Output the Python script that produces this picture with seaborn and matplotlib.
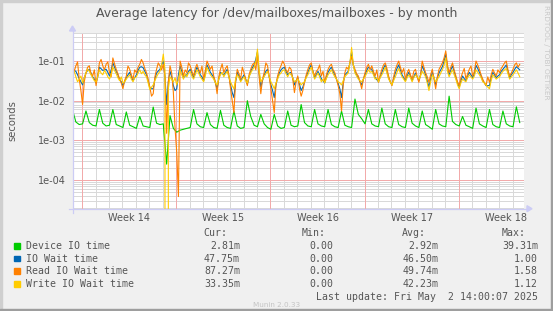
import numpy as np
import pandas as pd
import matplotlib
matplotlib.use("Agg")
import matplotlib.pyplot as plt
import seaborn as sns
from matplotlib.patches import Rectangle, Polygon
from matplotlib.lines import Line2D
from matplotlib.ticker import NullLocator

W, H, DPI = 553, 311, 100

# ---------------- data (milliseconds) ----------------
step_device = 0.25     # days between device samples
step_wait = 0.125      # days between wait-time samples

device_ms = [
    5.9, 2.9, 2.5, 2.6,  5.5, 2.8, 2.4, 2.3,  6.0, 2.7, 2.3, 2.4,  6.0, 2.5, 2.3, 2.1,
    5.2, 2.4, 2.2, 2.0,  4.0, 2.3, 2.2, 2.1,  6.9, 2.7, 2.5, 2.6,  0.25, 4.2, 2.0, 1.6,
    1.8, 1.9, 2.0, 2.1,  6.0, 2.6, 2.2, 2.1,  5.0, 2.5, 2.1, 2.0,  5.7, 2.4, 2.1, 2.0,
    5.5, 2.3, 2.0, 2.1,  10.0, 4.0, 2.4, 2.2, 4.5, 2.6, 2.1, 1.9,  4.5, 2.3, 2.0, 2.1,
    5.5, 2.4, 2.2, 2.3,  8.0, 2.8, 2.3, 2.2,  6.0, 2.6, 2.3, 2.2,  6.0, 2.5, 2.2, 2.1,
    5.5, 2.4, 2.2, 2.1,  11.0, 4.5, 3.5, 2.6, 6.0, 2.6, 2.3, 2.2,  6.5, 2.6, 2.2, 2.1,
    6.0, 2.5, 2.2, 2.1,  6.5, 2.7, 2.3, 2.1,  5.5, 2.5, 2.2, 1.9,  6.0, 2.6, 2.3, 2.2,
    13.0, 3.0, 2.5, 2.3, 4.0, 2.4, 2.2, 2.0,  6.5, 2.6, 2.3, 2.1,  6.0, 2.5, 2.2, 2.1,
    5.5, 2.6, 2.3, 2.2,  7.0, 2.8,
]

iowait_ms = [
    60, 58, 55, 45, 36, 30, 25, 38, 50, 58, 62, 50, 40, 35, 28, 40,
    70, 64, 58, 60, 62, 52, 42, 60, 90, 70, 55, 45, 34, 30, 24, 30,
    38, 45, 52, 40, 32, 38, 45, 58, 70, 72, 68, 55, 45, 32, 21, 20,
    20, 35, 50, 56, 62, 80, 100, 40, 8, 30, 55, 40, 24, 18, 20, 45,
    75, 55, 38, 42, 45, 55, 62, 50, 38, 52, 70, 58, 45, 40, 32, 50,
    80, 65, 52, 45, 38, 28, 20, 35, 52, 48, 45, 52, 62, 42, 25, 16,
    12, 30, 52, 42, 32, 38, 45, 35, 26, 40, 55, 68, 80, 110, 170, 50,
    22, 32, 45, 55, 62, 40, 25, 18, 12, 25, 38, 50, 60, 66, 70, 55,
    45, 50, 52, 38, 25, 32, 38, 26, 18, 22, 30, 40, 52, 66, 80, 55,
    38, 46, 55, 45, 36, 32, 28, 40, 52, 62, 70, 55, 45, 35, 27, 20,
    12, 28, 45, 50, 55, 90, 170, 80, 55, 45, 38, 30, 25, 35, 45, 58,
    70, 66, 62, 48, 38, 34, 30, 40, 52, 66, 80, 55, 38, 30, 25, 36,
    50, 65, 80, 60, 45, 38, 32, 42, 52, 42, 32, 40, 50, 40, 32, 45,
    75, 60, 45, 32, 22, 36, 52, 38, 25, 38, 50, 60, 72, 100, 150, 70,
    45, 60, 75, 55, 38, 28, 22, 32, 42, 36, 32, 42, 52, 45, 38, 48,
    78, 65, 52, 42, 32, 28, 24, 24, 24, 38, 52, 45, 38, 42, 45, 55,
    62, 70, 80, 55, 38, 45, 52, 62, 72, 66, 60,
]

read_ms = [
    83, 55, 76, 95, 35, 18, 8, 30, 50, 70, 76, 48, 42, 60, 24, 45,
    90, 110, 76, 60, 83, 95, 51, 40, 120, 85, 62, 48, 35, 28, 20, 32,
    42, 75, 62, 45, 35, 60, 51, 70, 83, 110, 90, 65, 51, 35, 22, 13,
    15, 40, 62, 90, 76, 60, 83, 40, 1.5, 30, 76, 50, 16, 2.0, 0.5, 0.038,
    100, 70, 42, 60, 51, 90, 76, 55, 42, 65, 83, 62, 51, 75, 35, 58,
    100, 80, 62, 75, 42, 30, 15, 40, 62, 85, 51, 65, 76, 45, 20, 10,
    5, 30, 62, 48, 35, 70, 51, 35, 24, 45, 62, 80, 90, 60, 145, 40,
    15, 35, 51, 90, 76, 40, 20, 10, 5, 25, 42, 60, 76, 100, 83, 60,
    51, 70, 62, 35, 16, 30, 42, 20, 13, 18, 29, 45, 62, 80, 90, 55,
    42, 55, 62, 80, 42, 55, 29, 45, 62, 75, 83, 60, 51, 35, 24, 15,
    5.5, 25, 51, 70, 62, 90, 130, 80, 62, 48, 42, 30, 20, 35, 51, 70,
    83, 60, 76, 55, 42, 60, 29, 45, 62, 80, 90, 65, 42, 30, 24, 40,
    62, 80, 100, 70, 51, 65, 35, 50, 62, 45, 35, 55, 62, 40, 29, 45,
    100, 70, 51, 40, 29, 45, 62, 35, 20, 40, 62, 75, 90, 120, 180, 80,
    51, 70, 90, 60, 42, 30, 24, 38, 51, 65, 35, 48, 62, 75, 42, 55,
    100, 80, 62, 45, 35, 28, 24, 40, 29, 45, 62, 50, 42, 60, 51, 65,
    76, 90, 100, 60, 42, 50, 62, 80, 90, 70, 83,
]

write_ms = [
    45, 55, 40, 30, 35, 42, 28, 38, 50, 62, 55, 45, 38, 32, 30, 40,
    60, 50, 45, 58, 50, 40, 35, 45, 70, 58, 48, 38, 32, 40, 28, 30,
    35, 40, 45, 35, 30, 38, 40, 50, 60, 48, 55, 45, 40, 28, 19, 22,
    25, 32, 40, 48, 55, 80, 150, 60, 0, 20, 40, 35, 30, 38, 25, 35,
    60, 45, 35, 48, 40, 50, 55, 42, 35, 45, 60, 50, 40, 35, 30, 42,
    70, 55, 45, 40, 35, 28, 25, 35, 45, 52, 40, 48, 55, 40, 30, 24,
    20, 35, 45, 38, 30, 35, 40, 32, 28, 40, 50, 60, 70, 95, 200, 60,
    30, 35, 40, 48, 55, 40, 30, 25, 20, 28, 35, 45, 50, 58, 60, 48,
    40, 50, 45, 38, 30, 32, 35, 30, 25, 28, 30, 38, 45, 58, 70, 50,
    35, 42, 50, 40, 30, 35, 28, 36, 45, 52, 60, 48, 40, 35, 30, 28,
    25, 32, 40, 45, 50, 90, 220, 80, 50, 42, 35, 32, 30, 35, 40, 50,
    60, 52, 55, 45, 35, 38, 30, 38, 45, 55, 70, 50, 35, 30, 25, 32,
    40, 52, 65, 50, 40, 35, 30, 38, 45, 38, 30, 38, 45, 40, 35, 42,
    55, 48, 40, 28, 18, 30, 45, 38, 30, 35, 40, 50, 60, 80, 120, 55,
    40, 50, 60, 45, 35, 25, 20, 28, 35, 32, 30, 38, 45, 40, 35, 42,
    60, 52, 45, 38, 30, 28, 25, 22, 20, 32, 45, 40, 35, 38, 40, 48,
    55, 60, 65, 48, 35, 40, 45, 52, 60, 50, 40,
]

series_names = ["Device IO time", "IO Wait time", "Read IO Wait time", "Write IO Wait time"]
series_colors = ["#00CC00", "#0066B3", "#FF8000", "#FFCC00"]
legend_cur = ["2.81m", "47.75m", "87.27m", "33.35m"]
legend_min = ["0.00", "0.00", "0.00", "0.00"]
legend_avg = ["2.92m", "46.50m", "49.74m", "42.23m"]
legend_max = ["39.31m", "1.00", "1.58", "1.12"]

week_labels = ["Week 14", "Week 15", "Week 16", "Week 17", "Week 18"]
ytick_values = [1e-1, 1e-2, 1e-3, 1e-4]
ytick_labels = ["1e-01", "1e-02", "1e-03", "1e-04"]

title = "Average latency for /dev/mailboxes/mailboxes - by month"
ylabel = "seconds"
last_update = "Last update: Fri May  2 14:00:07 2025"
version_text = "Munin 2.0.33"
side_text = "RRDTOOL / TOBI OETIKER"

# ---------------- layout ----------------
PL, PR, PT, PB = 72.5, 523.5, 32.5, 208.7      # plot area in pixels
X_MAX = 33.53                                  # days shown
Y_MIN, Y_MAX = 1.877e-5, 0.526
WEEK0 = 0.715                                  # first Monday (days from left edge)


def fx(x):
    return x / W


def fy(y):
    return 1 - y / H


fig = plt.figure(figsize=(W / DPI, H / DPI), dpi=DPI, facecolor="#F0F0F0")
ax = fig.add_axes([fx(PL), fy(PB), (PR - PL) / W, (PB - PT) / H])
ax.set_facecolor("white")

frames = []
for name, vals, step in zip(series_names,
                            [device_ms, iowait_ms, read_ms, write_ms],
                            [step_device, step_wait, step_wait, step_wait]):
    n = len(vals)
    frames.append(pd.DataFrame({
        "day": np.arange(n) * step,
        "seconds": np.asarray(vals, dtype=float) * 1e-3,
        "series": name,
    }))
df = pd.concat(frames, ignore_index=True)

sns.lineplot(data=df, x="day", y="seconds", hue="series", hue_order=series_names,
             palette=dict(zip(series_names, series_colors)), estimator=None,
             sort=False, linewidth=0.8, legend=False, ax=ax, zorder=3)

ax.set_yscale("log", nonpositive="clip")
ax.set_xlim(0, X_MAX)
ax.set_ylim(Y_MIN, Y_MAX)

# grid (dotted, crisp 1px)
dots = (0, (1, 1))
minor_c, major_c = "#D9D9D9", "#F2AAAA"
d = WEEK0
while d < X_MAX:
    k = round(d - WEEK0)
    major = (k % 7 == 0)
    ax.axvline(d, color=major_c if major else minor_c, lw=0.72, linestyle=dots,
               antialiased=False, zorder=2 if major else 1)
    d += 1
for e in range(-5, 0):
    for m in range(1, 10):
        v = m * 10.0 ** e
        if Y_MIN < v < Y_MAX:
            ax.axhline(v, color=major_c if m == 1 else minor_c, lw=0.72,
                       linestyle=dots, antialiased=False,
                       zorder=2 if m == 1 else 1)

for s in ax.spines.values():
    s.set_visible(False)

ax.set_yticks(ytick_values)
ax.set_yticklabels(ytick_labels)
ax.yaxis.set_minor_locator(NullLocator())
ax.set_xticks([WEEK0 + 3.5 + 7 * i for i in range(len(week_labels))])
ax.set_xticklabels(week_labels)
ax.xaxis.set_minor_locator(NullLocator())
ax.tick_params(axis="both", length=0, labelsize=7, labelcolor="#555555")
ax.tick_params(axis="y", pad=5)
ax.tick_params(axis="x", pad=3)
ax.set_xlabel("")
ax.set_ylabel("")

# axes lines with arrows
axis_c = "#CCCCF5"
fig.add_artist(Line2D([fx(68.5), fx(527)], [fy(PB), fy(PB)], color=axis_c, lw=0.9))
fig.add_artist(Line2D([fx(PL), fx(PL)], [fy(212.5), fy(30)], color=axis_c, lw=0.9))
fig.add_artist(Polygon([[fx(527), fy(PB - 3)], [fx(532), fy(PB)], [fx(527), fy(PB + 3)]],
                       closed=True, color=axis_c))
fig.add_artist(Polygon([[fx(PL - 3), fy(31)], [fx(PL), fy(26)], [fx(PL + 3), fy(31)]],
                       closed=True, color=axis_c))

# border
fig.add_artist(Rectangle((0, fy(2)), 1, 2 / H, color="#CFCFCF", transform=fig.transFigure))
fig.add_artist(Rectangle((0, 0), 2 / W, 1, color="#CFCFCF", transform=fig.transFigure))
fig.add_artist(Rectangle((0, 0), 1, 2 / H, color="#9E9E9E", transform=fig.transFigure))
fig.add_artist(Rectangle((fx(W - 2), 0), 2 / W, 1, color="#9E9E9E", transform=fig.transFigure))

# texts
fig.text(fx(277), fy(14), title, ha="center", va="center", fontsize=9.0,
         color="#555555", family="DejaVu Sans")
fig.text(fx(12), fy((PT + PB) / 2), ylabel, ha="center", va="center", rotation=90,
         fontsize=7.2, color="#555555", family="DejaVu Sans")
fig.text(fx(546), fy(5), side_text, ha="center", va="top", rotation=270,
         fontsize=5.3, color="#C8C8C8", family="DejaVu Sans")

mono = dict(family="DejaVu Sans Mono", fontsize=7.15, color="#555555", va="center")
header_y = 233.5
fig.text(fx(227), fy(header_y), "Cur:", ha="right", **mono)
fig.text(fx(326), fy(header_y), "Min:", ha="right", **mono)
fig.text(fx(426), fy(header_y), "Avg:", ha="right", **mono)
fig.text(fx(525.5), fy(header_y), "Max:", ha="right", **mono)
row_y = [246.0, 258.5, 271.0, 283.8]
for i, name in enumerate(series_names):
    y = row_y[i]
    fig.add_artist(Rectangle((fx(14), fy(y + 2.8)), 5.5 / W, 5.5 / H,
                             color=series_colors[i], transform=fig.transFigure))
    fig.text(fx(26.5), fy(y), name, ha="left", **mono)
    fig.text(fx(240), fy(y), legend_cur[i], ha="right", **mono)
    fig.text(fx(333.5), fy(y), legend_min[i], ha="right", **mono)
    fig.text(fx(438.5), fy(y), legend_avg[i], ha="right", **mono)
    fig.text(fx(538), fy(y), legend_max[i], ha="right", **mono)
fig.text(fx(538), fy(296.5), last_update, ha="right", **mono)
fig.text(fx(277), fy(305), version_text, ha="center", va="center", fontsize=5.2,
         color="#C4C4C4", family="DejaVu Sans")

fig.savefig("out.png", dpi=DPI, facecolor=fig.get_facecolor())
